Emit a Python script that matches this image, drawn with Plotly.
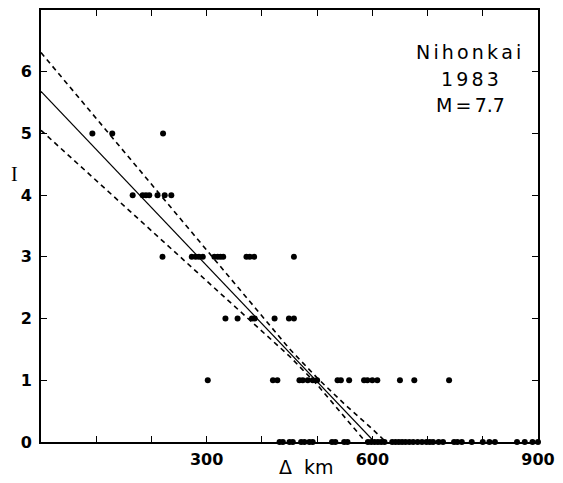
import plotly.graph_objects as go

# Observed intensities (I) vs epicentral distance (km)
dist_I5 = [93, 129, 221]
dist_I4 = [166, 184, 190, 196, 211, 224, 236]
dist_I3 = [220, 273, 280, 286, 293, 314, 320, 325, 330, 372, 378, 386, 458]
dist_I2 = [334, 356, 382, 387, 423, 449, 458]
dist_I1 = [302, 420, 428, 468, 474, 483, 492, 500, 537, 543, 558, 585, 591,
           600, 609, 650, 676, 739]
dist_I0 = [432, 438, 450, 456, 471, 477, 486, 492, 527, 533, 549, 555, 592,
           598, 604, 610, 616, 622, 636, 642, 648, 654, 660, 667, 674, 682,
           690, 698, 704, 710, 720, 728, 748, 754, 762, 780, 800, 812, 822,
           862, 876, 890, 900]

# Regression line and confidence band
fit_x = [0, 604]
fit_I = [5.68, 0.0]
upper_x = [0, 100, 200, 300, 400, 450, 500, 550, 600, 625]
upper_I = [6.31, 5.24, 4.17, 3.10, 2.04, 1.51, 1.04, 0.61, 0.21, 0.0]
lower_x = [0, 100, 200, 300, 400, 450, 500, 550, 588]
lower_I = [5.05, 4.24, 3.43, 2.62, 1.80, 1.39, 0.93, 0.41, 0.0]

xtick_vals = [0, 100, 200, 300, 400, 500, 600, 700, 800, 900]
xtick_text = ["", "", "", "300", "", "", "600", "", "", "900"]
ytick_vals = [0, 1, 2, 3, 4, 5, 6]

fig = go.Figure()

groups = [(dist_I5, 5), (dist_I4, 4), (dist_I3, 3), (dist_I2, 2), (dist_I1, 1), (dist_I0, 0)]
for d, lvl in groups:
    fig.add_trace(go.Scatter(x=d, y=[lvl] * len(d), mode="markers",
                             marker=dict(color="black", size=6),
                             showlegend=False, cliponaxis=False))

fig.add_trace(go.Scatter(x=fit_x, y=fit_I, mode="lines",
                         line=dict(color="black", width=1.2), showlegend=False))
fig.add_trace(go.Scatter(x=upper_x, y=upper_I, mode="lines",
                         line=dict(color="black", width=1.6, dash="5px,4px"),
                         showlegend=False))
fig.add_trace(go.Scatter(x=lower_x, y=lower_I, mode="lines",
                         line=dict(color="black", width=1.6, dash="5px,4px"),
                         showlegend=False))

tickfont = dict(family="DejaVu Sans", size=16, color="black", weight="bold")

fig.update_xaxes(range=[0, 900], showgrid=False, zeroline=False,
                 showline=True, linecolor="black", linewidth=2, mirror="allticks",
                 ticks="inside", ticklen=6, tickwidth=1.2, tickcolor="black",
                 tickvals=xtick_vals, ticktext=xtick_text, tickfont=tickfont,
                 ticklabelstandoff=2)
fig.update_yaxes(range=[0, 7], showgrid=False, zeroline=False,
                 showline=True, linecolor="black", linewidth=2, mirror="allticks",
                 ticks="inside", ticklen=6, tickwidth=1.2, tickcolor="black",
                 tickvals=ytick_vals, tickfont=tickfont, ticklabelstandoff=4)

fig.add_annotation(text="I", xref="paper", yref="paper", x=-0.064, y=0.62,
                   showarrow=False, font=dict(family="Liberation Serif", size=20, color="black"))
fig.add_annotation(text="\u0394  km", xref="paper", yref="paper", x=0.535, y=-0.058,
                   showarrow=False, yanchor="middle",
                   font=dict(family="DejaVu Sans", size=19, color="black"))

sp = "\u2006"
label_font = dict(family="DejaVu Sans", size=19, color="black")
fig.add_annotation(text=sp.join("Nihonkai"), x=774, y=6.32, showarrow=False, font=label_font)
fig.add_annotation(text=sp.join("1983"), x=776, y=5.88, showarrow=False, font=label_font)
fig.add_annotation(text="M" + sp + "=" + sp + "7.7", x=778, y=5.46, showarrow=False, font=label_font)

fig.update_layout(width=563, height=483, plot_bgcolor="white", paper_bgcolor="white",
                  margin=dict(l=41, r=19, t=8, b=41))

fig.write_html("out.html")
